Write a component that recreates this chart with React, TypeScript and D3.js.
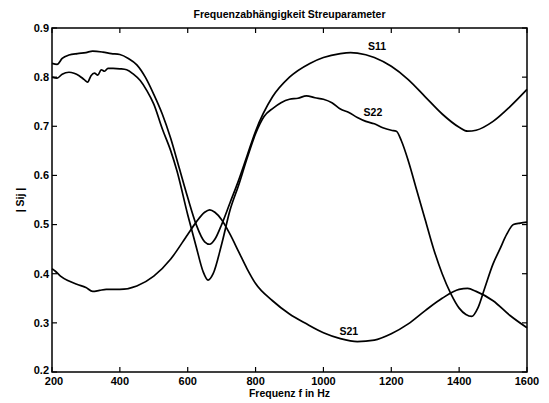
import * as d3 from "d3";

const xTicks = [200, 400, 600, 800, 1000, 1200, 1400, 1600];
const yTicks = [0.2, 0.3, 0.4, 0.5, 0.6, 0.7, 0.8, 0.9];

const s11Freq = [200, 215, 230, 250, 275, 300, 320, 350, 375, 400, 425, 450, 475, 500, 525, 550, 575, 600, 625, 650, 665, 680, 700, 725, 750, 775, 800, 850, 900, 960, 1000, 1050, 1080, 1100, 1150, 1200, 1250, 1300, 1350, 1400, 1425, 1450, 1500, 1550, 1600];
const s11Vals = [0.828, 0.826, 0.838, 0.845, 0.848, 0.85, 0.853, 0.851, 0.848, 0.846, 0.838, 0.825, 0.8, 0.765, 0.725, 0.675, 0.615, 0.555, 0.5, 0.465, 0.46, 0.47, 0.5, 0.545, 0.59, 0.64, 0.69, 0.76, 0.8, 0.828, 0.84, 0.848, 0.85, 0.849, 0.84, 0.822, 0.795, 0.76, 0.725, 0.698, 0.69, 0.692, 0.71, 0.74, 0.775];

const s22Freq = [200, 215, 230, 250, 265, 280, 295, 305, 315, 325, 335, 345, 355, 365, 380, 400, 420, 440, 460, 480, 500, 525, 550, 568, 600, 625, 645, 660, 675, 700, 725, 750, 775, 800, 825, 852, 875, 900, 925, 950, 975, 1000, 1025, 1050, 1075, 1100, 1125, 1150, 1175, 1200, 1215, 1230, 1250, 1275, 1300, 1325, 1350, 1375, 1400, 1420, 1437, 1455, 1475, 1500, 1520, 1540, 1560, 1580, 1600];
const s22Vals = [0.8, 0.798, 0.806, 0.81, 0.808, 0.803, 0.795, 0.79, 0.803, 0.808, 0.804, 0.815, 0.812, 0.818, 0.818, 0.817, 0.815, 0.806, 0.793, 0.772, 0.745, 0.695, 0.65, 0.61, 0.52, 0.455, 0.405, 0.387, 0.4, 0.46, 0.53, 0.58, 0.635, 0.685, 0.72, 0.737, 0.748, 0.755, 0.757, 0.762, 0.758, 0.755, 0.748, 0.735, 0.728, 0.718, 0.71, 0.705, 0.697, 0.692, 0.69, 0.67, 0.63, 0.57, 0.51, 0.45, 0.4, 0.36, 0.33, 0.317, 0.313, 0.33, 0.37, 0.42, 0.45, 0.48, 0.5, 0.503, 0.505];

const s21Freq = [200, 210, 225, 250, 275, 300, 320, 340, 360, 400, 450, 500, 550, 600, 625, 650, 665, 680, 700, 725, 750, 775, 800, 850, 900, 950, 1000, 1050, 1100, 1150, 1200, 1250, 1300, 1350, 1400, 1425, 1450, 1500, 1550, 1600];
const s21Vals = [0.41, 0.405, 0.395, 0.385, 0.378, 0.372, 0.364, 0.366, 0.368, 0.368, 0.375, 0.395, 0.43, 0.48, 0.505, 0.525, 0.53, 0.525, 0.51, 0.48, 0.445, 0.41, 0.38, 0.345, 0.318, 0.298, 0.28, 0.268, 0.262, 0.265, 0.278, 0.298, 0.325, 0.35, 0.368, 0.37, 0.364, 0.345, 0.315, 0.29];

const curveLabels = [
  { text: "S11", f: 1158, v: 0.862 },
  { text: "S22", f: 1146, v: 0.729 },
  { text: "S21", f: 1075, v: 0.283 },
];

export default function App() {
  const width = 549;
  const height = 403;
  const left = 52, right = 527, top = 28, bottom = 372;

  const x = d3.scaleLinear([200, 1600], [left, right]);
  const y = d3.scaleLinear([0.2, 0.9], [bottom, top]);

  const line = d3.line<[number, number]>()
    .x(d => x(d[0]))
    .y(d => y(d[1]))
    .curve(d3.curveMonotoneX);

  const series = [
    s11Freq.map((f, i) => [f, s11Vals[i]] as [number, number]),
    s22Freq.map((f, i) => [f, s22Vals[i]] as [number, number]),
    s21Freq.map((f, i) => [f, s21Vals[i]] as [number, number]),
  ];

  const font = "'Liberation Sans', Arial, sans-serif";
  const tickLen = 5;

  return (
    <svg width={width} height={height} style={{ position: "absolute", left: 0, top: 0, background: "white" }}>
      <text x={(left + right) / 2} y={18} textAnchor="middle" fontFamily={font} fontSize={10.5} fontWeight="bold">
        Frequenzabhängigkeit Streuparameter
      </text>

      {/* curves */}
      {series.map((s, i) => (
        <path key={i} d={line(s) ?? ""} fill="none" stroke="black" strokeWidth={1.7} />
      ))}

      {curveLabels.map(l => (
        <text key={l.text} x={x(l.f)} y={y(l.v)} textAnchor="middle" dy="0.35em" fontFamily={font} fontSize={10.5} fontWeight="bold">
          {l.text}
        </text>
      ))}

      {/* frame */}
      <rect x={left} y={top} width={right - left} height={bottom - top} fill="none" stroke="black" strokeWidth={1.5} />

      {xTicks.map(t => (
        <g key={`x${t}`}>
          <line x1={x(t)} x2={x(t)} y1={bottom} y2={bottom - tickLen} stroke="black" strokeWidth={1.2} />
          <line x1={x(t)} x2={x(t)} y1={top} y2={top + tickLen} stroke="black" strokeWidth={1.2} />
          <text x={x(t) + (t === 200 ? 2 : 0)} y={bottom + 13} textAnchor="middle" fontFamily={font} fontSize={11} fontWeight="bold">
            {t}
          </text>
        </g>
      ))}

      {yTicks.map(t => (
        <g key={`y${t}`}>
          <line x1={left} x2={left + tickLen} y1={y(t)} y2={y(t)} stroke="black" strokeWidth={1.2} />
          <line x1={right} x2={right - tickLen} y1={y(t)} y2={y(t)} stroke="black" strokeWidth={1.2} />
          <text x={left - 3} y={y(t) + (t === 0.2 ? -2 : 0)} dy="0.35em" textAnchor="end" fontFamily={font} fontSize={11} fontWeight="bold">
            {t.toFixed(1)}
          </text>
        </g>
      ))}

      <text x={(left + right) / 2} y={397} textAnchor="middle" fontFamily={font} fontSize={10.5} fontWeight="bold">
        Frequenz  f  in  Hz
      </text>
      <text transform={`translate(24,${(top + bottom) / 2}) rotate(-90)`} textAnchor="middle" fontFamily={font} fontSize={10.5} fontWeight="bold" xmlSpace="preserve">
        | Sij |
      </text>
    </svg>
  );
}
